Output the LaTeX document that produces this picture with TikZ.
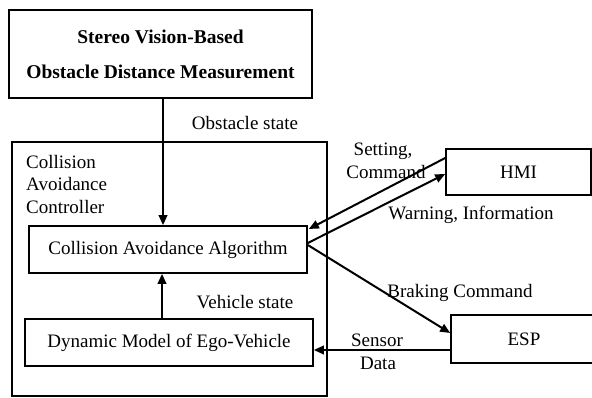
\documentclass[tikz,border=0pt]{standalone}
\usepackage{fontspec}
\setmainfont{Liberation Serif}
\usetikzlibrary{arrows.meta}
\begin{document}
\begin{tikzpicture}[x=1pt,y=-1pt,
  every node/.style={font=\fontsize{19}{22}\selectfont},
  blk/.style={draw,line width=1.6pt,minimum width=#1,inner sep=0pt},
  lbl/.style={inner sep=0pt},
  arr/.style={line width=2pt,-{Triangle[length=10pt,width=8.5pt]}}]
\useasboundingbox (0,0) rectangle (592,398);
% sensing block
\node[blk=303pt,minimum height=88pt,line width=2.8pt,align=center,
      font=\fontsize{19.5}{35}\selectfont\bfseries] (top) at (160.5,54)
  {Stereo Vision-Based\\Obstacle Distance Measurement};
% controller frame
\node[blk=315pt,minimum height=254pt,line width=1.3pt] (ctrl) at (169.5,269) {};
\node[lbl,anchor=north west,align=left,font=\fontsize{19}{22.5}\selectfont] (ctrlname) at (26,155)
  {Collision\\Avoidance\\Controller};
\node[blk=278pt,minimum height=47pt] (caa) at (168,249.5) {Collision Avoidance Algorithm};
\node[blk=288pt,minimum height=47pt] (dyn) at (169,342.5) {Dynamic Model of Ego-Vehicle};
% external units
\node[blk=145pt,minimum height=46pt] (hmi) at (518.5,172) {HMI};
\node[blk=146pt,minimum height=48pt] (esp) at (524,339) {ESP};
% flows
\coordinate (vx) at (163,0);
\coordinate (vy) at (162,0);
\draw[arr] (top.south -| vx) -- (caa.north -| vx);
\draw[arr] (dyn.north -| vy) -- (caa.south -| vy);
\draw[arr] ([yshift=6.5pt]caa.east) -- ([yshift=-2pt]hmi.west);
\draw[arr] ([yshift=14pt]hmi.west) -- ([yshift=20.5pt,xshift=1pt]caa.east);
\draw[arr] ([yshift=4.5pt]caa.east) -- ([yshift=6pt]esp.west);
\draw[arr] ([yshift=-11pt]esp.west) -- ([yshift=-11pt]esp.west -| dyn.east);
% labels
\node[lbl] (l1) at (245,123) {Obstacle state};
\node[lbl] (l2) at (245,302) {Vehicle state};
\node[lbl] (l3) at (383,151) {Setting,};
\node[lbl] (l4) at (386,172) {Command};
\node[lbl] (l5) at (471,215) {Warning, Information};
\node[lbl] (l6) at (460,293) {Braking Command};
\node[lbl] (l7) at (377,340) {Sensor};
\node[lbl] (l8) at (378,363) {Data};
\end{tikzpicture}
\end{document}
